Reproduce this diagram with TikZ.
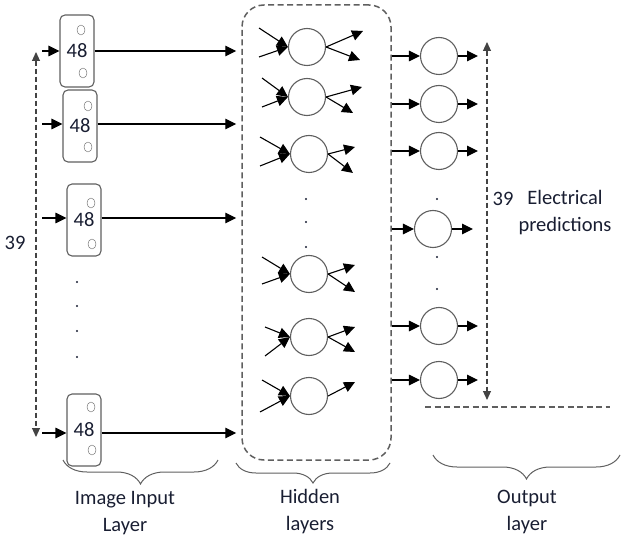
\documentclass[tikz,border=0pt]{standalone}
\usepackage{fontspec}
\setmainfont{Carlito}
\usetikzlibrary{arrows.meta}
\usetikzlibrary{decorations.pathreplacing, positioning}

\definecolor{linegray}{RGB}{95,95,95}
\definecolor{txtblue}{RGB}{25,30,50}

\begin{document}
\begin{tikzpicture}[x=1pt, y=-1pt,
    every node/.style={font=\fontsize{20.5}{27}\selectfont, text=txtblue},
    inbox/.style={draw=linegray, line width=1.1pt, rounded corners=5pt, minimum width=34pt, minimum height=72pt, inner sep=0pt},
    neuron/.style={circle, draw=linegray, line width=1.1pt, minimum size=37pt, inner sep=0pt},
    arr/.style={-{Triangle[length=11pt,width=10.5pt]}, line width=1.1pt},
    darr/.style={{Triangle[length=9pt,width=8pt]}-{Triangle[length=9pt,width=8pt]}, dash pattern=on 5pt off 3pt, line width=1.1pt},
    brc/.style={decorate, decoration={brace, mirror, amplitude=#1}, linegray, line width=1pt}
]

    \useasboundingbox (0,0) rectangle (621,540);

    % Input images
    \node[inbox] (b1) at (77,51) {48};
    \node[inbox] (b2) at (80,126) {48};
    \node[inbox] (b3) at (84,220) {48};
    \node[inbox] (b4) at (84,430) {48};

    \draw[linegray] (81,30) ellipse [x radius=4, y radius=5];
    \draw[linegray] (83,73) ellipse [x radius=4, y radius=5];
    \draw[linegray] (88,106) ellipse [x radius=4, y radius=5];
    \draw[linegray] (88,147) ellipse [x radius=4, y radius=5];
    \draw[linegray] (91,203) ellipse [x radius=4, y radius=5];
    \draw[linegray] (92,244) ellipse [x radius=4, y radius=5];
    \draw[linegray] (91,407) ellipse [x radius=4, y radius=5];
    \draw[linegray] (92,450) ellipse [x radius=4, y radius=5];

    \fill[txtblue] (77,282) circle (1.2) (77,306) circle (1.2) (77,331) circle (1.2) (77,357) circle (1.2);

    \coordinate (i1) at (42,51);
    \coordinate (i2) at (42,124);
    \coordinate (i3) at (42,218);
    \coordinate (i4) at (42,433);
    \draw[arr] (i1) -- (b1);
    \draw[arr] (i2) -- (i2 -| b2.west);
    \draw[arr] (i3) -- (i3 -| b3.west);
    \draw[arr] (i4) -- (i4 -| b4.west);

    % 39 images
    \coordinate (l1) at (36,52);
    \coordinate (l2) at (36,437);
    \draw[darr, linegray!70!black] (l1) -- (l2);
    \node (n39in) at (15,243) {39};

    % Hidden layers
    \node[draw=linegray, dash pattern=on 6pt off 3.5pt, line width=1.5pt, rounded corners=22pt,
          minimum width=149pt, minimum height=455pt] (hid) at (316.5,232.5) {};

    \draw[arr, shorten >=5pt] (b1) -- (b1 -| hid.west);
    \draw[arr, shorten >=5pt] (i2 -| b2.east) -- (i2 -| hid.west);
    \draw[arr, shorten >=5pt] (i3 -| b3.east) -- (i3 -| hid.west);
    \draw[arr, shorten >=5pt] (i4 -| b4.east) -- (i4 -| hid.west);

    % neuron 1
    \node[neuron] (h1) at (307,47) {};
    \coordinate (ha1) at (259,28); \coordinate (hb1) at (259,57);
    \coordinate (hc1) at (363,31); \coordinate (hd1) at (360,60);
    \draw[arr] (ha1) -- (h1.west); \draw[arr] (hb1) -- (h1.west);
    \draw[arr] (h1.east) -- (hc1); \draw[arr] (h1.east) -- (hd1);

    % neuron 2
    \node[neuron] (h2) at (307,97) {};
    \coordinate (ha2) at (262,78); \coordinate (hb2) at (262,107);
    \coordinate (hc2) at (362,87); \coordinate (hd2) at (353,113);
    \draw[arr] (ha2) -- (h2.west); \draw[arr] (hb2) -- (h2.west);
    \draw[arr] (h2.east) -- (hc2); \draw[arr] (h2.east) -- (hd2);

    % neuron 3
    \node[neuron] (h3) at (309,154) {};
    \coordinate (ha3) at (260,137); \coordinate (hb3) at (260,166);
    \coordinate (hc3) at (355,147); \coordinate (hd3) at (353,173);
    \draw[arr] (ha3) -- (h3.west); \draw[arr] (hb3) -- (h3.west);
    \draw[arr] (h3.east) -- (hc3); \draw[arr] (h3.east) -- (hd3);

    \fill[txtblue] (306,199) circle (1.2) (306,222) circle (1.2) (306,247) circle (1.2);

    % neuron 4
    \node[neuron] (h4) at (309,274) {};
    \coordinate (ha4) at (262,257); \coordinate (hb4) at (262,284);
    \coordinate (hc4) at (355,265); \coordinate (hd4) at (355,292);
    \draw[arr] (ha4) -- (h4.west); \draw[arr] (hb4) -- (h4.west);
    \draw[arr] (h4.east) -- (hc4); \draw[arr] (h4.east) -- (hd4);

    % neuron 5
    \node[neuron] (h5) at (309,337) {};
    \coordinate (ha5) at (265,327); \coordinate (hb5) at (265,356);
    \coordinate (hc5) at (355,327); \coordinate (hd5) at (355,352);
    \draw[arr] (ha5) -- (h5.west); \draw[arr] (hb5) -- (h5.west);
    \draw[arr] (h5.east) -- (hc5); \draw[arr] (h5.east) -- (hd5);

    % neuron 6
    \node[neuron] (h6) at (309,396) {};
    \coordinate (ha6) at (262,380); \coordinate (hb6) at (260,412);
    \coordinate (hc6) at (355,382);
    \draw[arr] (ha6) -- (h6.west); \draw[arr] (hb6) -- (h6.west);
    \draw[arr] (h6.east) -- (hc6);

    % Output layer
    \node[neuron] (o1) at (439,56) {};
    \node[neuron] (o2) at (439,104) {};
    \node[neuron] (o3) at (439,151) {};
    \node[neuron] (o4) at (433,229) {};
    \node[neuron] (o5) at (439,326) {};
    \node[neuron] (o6) at (439,380) {};

    \fill[txtblue] (437,199) circle (1.2) (437,257) circle (1.2) (437,289) circle (1.2);

    \draw[arr] (o1 -| hid.east) -- (o1); \draw[arr] (o2 -| hid.east) -- (o2);
    \draw[arr] (o3 -| hid.east) -- (o3); \draw[arr] (o4 -| hid.east) -- (o4);
    \draw[arr] (o5 -| hid.east) -- (o5); \draw[arr] (o6 -| hid.east) -- (o6);

    \coordinate (oe1) at (478,56); \coordinate (oe2) at (478,104);
    \coordinate (oe3) at (478,151); \coordinate (oe4) at (473,229);
    \coordinate (oe5) at (478,326); \coordinate (oe6) at (478,380);
    \draw[arr] (o1) -- (oe1); \draw[arr] (o2) -- (oe2); \draw[arr] (o3) -- (oe3);
    \draw[arr] (o4) -- (oe4); \draw[arr] (o5) -- (oe5); \draw[arr] (o6) -- (oe6);

    % 39 predictions
    \coordinate (r1) at (487,42);
    \coordinate (r2) at (487,400);
    \draw[darr, linegray!70!black] (r1) -- (r2);
    \coordinate (d1) at (425,407);
    \coordinate (d2) at (610,407);
    \draw[linegray, dash pattern=on 6pt off 3.5pt, line width=1.4pt] (d1) -- (d2);
    \node (n39out) at (503,199) {39};
    \node[align=center] (elec) at (565,213) {Electrical\\predictions};

    % Braces and layer names
    \draw[brc=24pt] (63,460) -- (218,460);
    \draw[brc=20pt] (236,463) -- (390,463);
    \draw[brc=24pt] (433,455) -- (620,455);

    \node[align=center] (linput) at (125,513) {Image Input\\Layer};
    \node[align=center] (lhidden) at (310,512) {Hidden\\layers};
    \node[align=center] (loutput) at (527,512) {Output\\layer};

\end{tikzpicture}
\end{document}
